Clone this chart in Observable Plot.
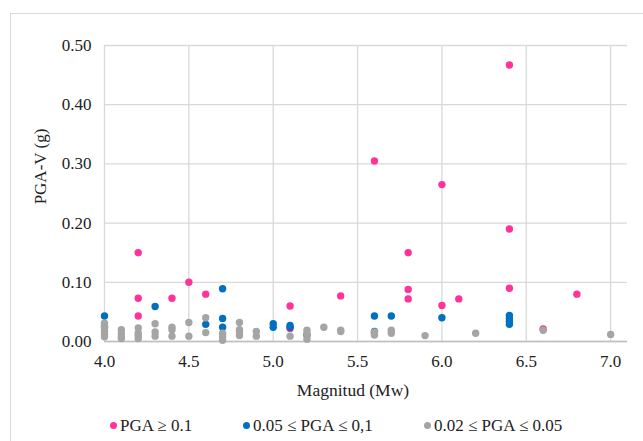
<!DOCTYPE html>
<html>
<head>
<meta charset="utf-8">
<script src="https://cdn.jsdelivr.net/npm/d3@7"></script>
<script src="https://cdn.jsdelivr.net/npm/@observablehq/plot@0.6"></script>
<style>
  html, body { margin: 0; padding: 0; background: #fff; }
  #wrap { position: relative; width: 643px; height: 441px; overflow: hidden; font-family: "Liberation Serif", "Times New Roman", serif; }
  #frame { position: absolute; left: 10px; top: 13px; width: 700px; height: 500px; border: 1px solid #d9d9d9; box-sizing: border-box; }
  #chart { position: absolute; left: 0; top: 0; }
  #chart svg, #chart svg text { font-family: "Liberation Serif", "Times New Roman", serif !important; }
  #legend { position: absolute; top: 415px; left: 0; width: 643px; height: 22px; font-size: 17px; color: #222; }
  .item { position: absolute; top: 0; white-space: nowrap; line-height: 22px; }
  .sw { display: inline-block; width: 7px; height: 7px; border-radius: 50%; margin-right: 3px; vertical-align: 2px; }
</style>
</head>
<body>
<div id="wrap">
  <div id="frame"></div>
  <div id="chart"></div>
  <div id="legend"></div>
</div>
<script>
// Series names and colours
const seriesNames = ["PGA \u2265 0.1", "0.05 \u2264 PGA \u2264 0,1", "0.02 \u2264 PGA \u2264 0.05"];
const seriesColors = ["#ff3399", "#0070c0", "#a5a5a5"];

// PGA >= 0.1 (pink)
const pinkMw  = [4.2, 4.2, 4.2, 4.4, 4.5, 4.6, 5.1, 5.1, 5.4, 5.6, 5.8, 5.8, 5.8, 6.0, 6.0, 6.1, 6.4, 6.4, 6.4, 6.6, 6.8];
const pinkPGA = [0.150, 0.073, 0.043, 0.073, 0.100, 0.080, 0.060, 0.022, 0.077, 0.305, 0.150, 0.088, 0.072, 0.265, 0.061, 0.072, 0.467, 0.190, 0.090, 0.021, 0.080];

// 0.05 <= PGA <= 0.1 (blue)
const blueMw  = [4.0, 4.0, 4.3, 4.6, 4.7, 4.7, 4.7, 5.0, 5.0, 5.1, 5.1, 5.2, 5.6, 5.6, 5.7, 6.0, 6.4, 6.4, 6.4, 6.4];
const bluePGA = [0.043, 0.025, 0.059, 0.029, 0.089, 0.039, 0.024, 0.030, 0.024, 0.027, 0.024, 0.011, 0.043, 0.017, 0.043, 0.040, 0.044, 0.039, 0.034, 0.029];

// 0.02 <= PGA <= 0.05 (gray)
const grayMw  = [4.0, 4.0, 4.0, 4.0, 4.0, 4.0, 4.1, 4.1, 4.1, 4.1, 4.2, 4.2, 4.2, 4.2, 4.3, 4.3, 4.3, 4.4, 4.4, 4.4, 4.5, 4.5, 4.6, 4.6, 4.7, 4.7, 4.7, 4.8, 4.8, 4.8, 4.8, 4.9, 4.9, 5.1, 5.2, 5.2, 5.2, 5.3, 5.4, 5.4, 5.6, 5.6, 5.6, 5.7, 5.7, 5.9, 6.2, 6.6, 7.0];
const grayPGA = [0.031, 0.026, 0.022, 0.017, 0.012, 0.008, 0.020, 0.013, 0.008, 0.005, 0.023, 0.014, 0.010, 0.005, 0.030, 0.016, 0.009, 0.024, 0.020, 0.009, 0.032, 0.009, 0.040, 0.015, 0.014, 0.008, 0.002, 0.032, 0.020, 0.016, 0.010, 0.017, 0.009, 0.009, 0.019, 0.013, 0.004, 0.024, 0.019, 0.017, 0.016, 0.013, 0.011, 0.019, 0.014, 0.010, 0.014, 0.019, 0.012];

// Axis ticks
const xTicks = [4.0, 4.5, 5.0, 5.5, 6.0, 6.5, 7.0];
const yTicks = [0.00, 0.10, 0.20, 0.30, 0.40, 0.50];
const xTitle = "Magnitud (Mw)";
const yTitle = "PGA-V (g)";

const toRows = (ms, vs) => ms.map((m, i) => ({m, v: vs[i]}));
const pink = toRows(pinkMw, pinkPGA);
const blue = toRows(blueMw, bluePGA);
const gray = toRows(grayMw, grayPGA);

const font = "'Liberation Serif', 'Times New Roman', serif";

const chart = Plot.plot({
  width: 643,
  height: 405,
  marginLeft: 104,
  marginRight: 16,
  marginTop: 45,
  marginBottom: 64,
  style: {fontFamily: font, fontSize: "17px", color: "#222", background: "transparent"},
  x: {domain: [4, 7.1], ticks: xTicks, tickFormat: d3.format(".1f"), tickSize: 0, tickPadding: 13, label: null},
  y: {domain: [0, 0.5], ticks: yTicks, tickFormat: d3.format(".2f"), tickSize: 0, tickPadding: 13, label: null},
  marks: [
    Plot.gridX(xTicks, {stroke: "#d9d9d9", strokeOpacity: 1, strokeWidth: 1.3}),
    Plot.gridY(yTicks, {stroke: "#d9d9d9", strokeOpacity: 1, strokeWidth: 1.3}),
    Plot.ruleY([0], {stroke: "#bfbfbf", strokeWidth: 1.5}),
    Plot.dot(pink, {x: "m", y: "v", r: 3.7, fill: seriesColors[0], stroke: "none"}),
    Plot.dot(blue, {x: "m", y: "v", r: 3.7, fill: seriesColors[1], stroke: "none"}),
    Plot.dot(gray, {x: "m", y: "v", r: 3.7, fill: seriesColors[2], stroke: "none"}),
    Plot.axisX(xTicks, {tickSize: 0, tickPadding: 13, tickFormat: d3.format(".1f"), label: null, fontSize: 17, fontFamily: font}),
    Plot.axisY(yTicks, {tickSize: 0, tickPadding: 13, tickFormat: d3.format(".2f"), label: null, fontSize: 17, fontFamily: font}),
    Plot.text([xTitle], {frameAnchor: "bottom", lineAnchor: "middle", textAnchor: "middle", dy: 49, dx: -13, fontSize: 17.5, fontFamily: font, fill: "#222"}),
    Plot.text([yTitle], {frameAnchor: "left", lineAnchor: "middle", textAnchor: "middle", dx: -64, dy: -27, rotate: -90, fontSize: 17, fontFamily: font, fill: "#222"})
  ]
});
document.getElementById("chart").appendChild(chart);

// Legend
const legendX = [110, 243, 424];
const legend = document.getElementById("legend");
seriesNames.forEach((name, i) => {
  const it = document.createElement("div");
  it.className = "item";
  it.style.left = legendX[i] + "px";
  const sw = document.createElement("span");
  sw.className = "sw";
  sw.style.background = seriesColors[i];
  it.appendChild(sw);
  it.appendChild(document.createTextNode(name));
  legend.appendChild(it);
});
</script>
</body>
</html>
